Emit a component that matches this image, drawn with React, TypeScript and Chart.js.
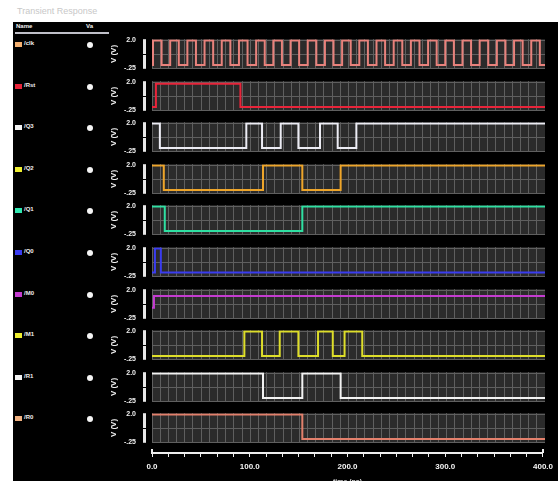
import React, { useEffect, useRef } from "react";
import { Chart, registerables } from "chart.js";

Chart.register(...registerables);

// ---------- data ----------
const TIME_MIN = 0;
const TIME_MAX = 400;

const signalNames = ["/clk", "/Rst", "/Q3", "/Q2", "/Q1", "/Q0", "/M0", "/M1", "/R1", "/R0"];
const traceColors = ["#e8827c", "#e8243a", "#ececf4", "#eea52a", "#2fe0a2", "#3a3cf0", "#c43cd0", "#dede2a", "#f2f2f2", "#e2806c"];
const swatchColors = ["#f4b070", "#e8243a", "#f2f2f2", "#eeee30", "#30e8b0", "#3a3cf0", "#c43cd0", "#eeee30", "#f2f2f2", "#f0b080"];
const startHigh = [false, false, true, true, true, false, false, false, true, true];
const lowLevels = [0, 0, 0, 0, 0, 0.05, 0.6, 0, 0, 0];
const highLevels = [2, 1.9, 2, 2, 2, 2, 1.55, 2, 2, 2];

// toggle times (ns) of every signal
const clkEdges = [1, 9.75, 18.5, 27.25, 36, 44.75, 53.5, 62.25, 71, 79.75, 88.5, 97.25, 106, 114.75, 123.5, 132.25, 141, 149.75, 158.5, 167.25, 176, 184.75, 193.5, 202.25, 211, 219.75, 228.5, 237.25, 246, 254.75, 263.5, 272.25, 281, 289.75, 298.5, 307.25, 316, 324.75, 333.5, 342.25, 351, 359.75, 368.5, 377.25, 386, 394.75];
const rstEdges = [4, 90];
const q3Edges = [8, 96, 112, 131, 149, 171, 189, 208];
const q2Edges = [12, 113, 153, 192];
const q1Edges = [13, 153];
const q0Edges = [3, 9];
const m0Edges = [2];
const m1Edges = [94, 112, 130, 149, 169, 184, 196, 214];
const r1Edges = [113, 153, 192];
const r0Edges = [153];
const signalEdges = [clkEdges, rstEdges, q3Edges, q2Edges, q1Edges, q0Edges, m0Edges, m1Edges, r1Edges, r0Edges];

const yMin = -0.3;
const yMax = 2.1;
const yGridValues = [-0.25, 0.125, 0.5, 0.875, 1.25, 1.625, 2.0];
const yLabelValues = [-0.25, 2.0];
const yLabelTexts = ["-.25", "2.0"];
const axisLabelValues = [0, 100, 200, 300, 400];
const axisTickDivisions = 6; // per 100 ns
const gridDivisions = 12; // per 100 ns

// ---------- helpers ----------
const FONT = "'Liberation Sans', Arial, sans-serif";
const PANEL_LEFT = 105;
const AXIS_W = 47;
const PLOT_W = 393;
const PANEL_TOP0 = 38;
const PANEL_STEP = 41.6;
const PANEL_H = 32;

function buildPoints(i: number) {
  const lo = lowLevels[i];
  const hi = highLevels[i];
  let high = startHigh[i];
  const pts: { x: number; y: number }[] = [{ x: TIME_MIN, y: high ? hi : lo }];
  for (const e of signalEdges[i]) {
    high = !high;
    pts.push({ x: e, y: high ? hi : lo });
  }
  pts.push({ x: TIME_MAX, y: high ? hi : lo });
  return pts;
}

const gridTimes: number[] = [];
for (let k = 0; k <= (gridDivisions * (TIME_MAX - TIME_MIN)) / 100; k++) gridTimes.push(TIME_MIN + (k * 100) / gridDivisions);
const axisTicks: number[] = [];
for (let k = 0; k <= (axisTickDivisions * (TIME_MAX - TIME_MIN)) / 100; k++) axisTicks.push(TIME_MIN + (k * 100) / axisTickDivisions);

const panelBgPlugin = {
  id: "panelBg",
  beforeDraw(chart: any) {
    const { ctx, chartArea } = chart;
    if (!chartArea) return;
    ctx.save();
    ctx.fillStyle = "#2b2b2b";
    ctx.fillRect(chartArea.left, chartArea.top, chartArea.right - chartArea.left, chartArea.bottom - chartArea.top);
    ctx.restore();
  },
};

const rulerPlugin = {
  id: "ruler",
  afterDraw(chart: any) {
    const { ctx, chartArea } = chart;
    const ys = chart.scales.y;
    const x0 = chartArea.left - 9;
    ctx.save();
    ctx.fillStyle = "#e8e8e8";
    ctx.fillRect(x0, chartArea.top, 3, chartArea.bottom - chartArea.top);
    ctx.fillStyle = "#000";
    ys.ticks.forEach((t: any, idx: number) => {
      if (idx === 0 || idx === ys.ticks.length - 1) return;
      const py = Math.round(ys.getPixelForValue(t.value));
      ctx.fillRect(x0, py, 3, 1);
    });
    ctx.restore();
  },
};

const axisCornerPlugin = {
  id: "axisCorner",
  afterDraw(chart: any) {
    const { ctx, chartArea } = chart;
    ctx.save();
    ctx.fillStyle = "#eeeeee";
    ctx.fillRect(chartArea.left - 1, chartArea.bottom - 4, 2, 4);
    ctx.fillRect(chartArea.right - 1, chartArea.bottom - 4, 2, 4);
    ctx.restore();
  },
};

function Panel({ index }: { index: number }) {
  const ref = useRef<HTMLCanvasElement>(null);
  useEffect(() => {
    const chart = new Chart(ref.current as HTMLCanvasElement, {
      type: "line",
      data: {
        datasets: [
          {
            data: buildPoints(index),
            borderColor: traceColors[index],
            borderWidth: 2,
            pointRadius: 0,
            stepped: true,
            fill: false,
          } as any,
        ],
      },
      options: {
        animation: false,
        responsive: false,
        events: [],
        layout: { padding: { top: 4, bottom: 4, left: 0, right: 0 } },
        plugins: { legend: { display: false }, tooltip: { enabled: false } },
        scales: {
          x: {
            type: "linear",
            min: TIME_MIN,
            max: TIME_MAX,
            afterBuildTicks: (s: any) => {
              s.ticks = gridTimes.map((v) => ({ value: v }));
            },
            ticks: { display: false },
            grid: { color: "#5f5f5f", lineWidth: 1, drawTicks: false },
            border: { display: false },
          },
          y: {
            type: "linear",
            min: yMin,
            max: yMax,
            afterBuildTicks: (s: any) => {
              s.ticks = yGridValues.map((v) => ({ value: v }));
            },
            afterFit: (s: any) => {
              s.width = AXIS_W;
            },
            ticks: {
              color: "#f0f0f0",
              padding: 1,
              font: { size: 7, weight: "bold", family: FONT },
              callback: (v: any) => {
                const k = yLabelValues.findIndex((lv) => Math.abs(lv - Number(v)) < 1e-6);
                return k >= 0 ? yLabelTexts[k] : "";
              },
            },
            grid: { color: "#5f5f5f", lineWidth: 1, drawTicks: true, tickLength: 15, tickColor: "rgba(0,0,0,0)" },
            border: { display: false },
            title: {
              display: true,
              text: "V (V)",
              color: "#f0f0f0",
              font: { size: 8, weight: "bold", family: FONT },
              padding: { top: 4, bottom: 0 },
            },
          },
        },
      } as any,
      plugins: [panelBgPlugin, rulerPlugin],
    });
    return () => chart.destroy();
  }, [index]);
  const top = Math.round(PANEL_TOP0 + index * PANEL_STEP) - 4;
  return (
    <canvas
      ref={ref}
      width={AXIS_W + PLOT_W}
      height={PANEL_H + 8}
      style={{ position: "absolute", left: PANEL_LEFT, top, display: "block" }}
    />
  );
}

function TimeAxis() {
  const ref = useRef<HTMLCanvasElement>(null);
  useEffect(() => {
    const chart = new Chart(ref.current as HTMLCanvasElement, {
      type: "line",
      data: { datasets: [] },
      options: {
        animation: false,
        responsive: false,
        events: [],
        layout: { padding: { left: AXIS_W, right: 13, top: 0, bottom: 0 } },
        plugins: { legend: { display: false }, tooltip: { enabled: false } },
        scales: {
          x: {
            type: "linear",
            min: TIME_MIN,
            max: TIME_MAX,
            position: "bottom",
            afterBuildTicks: (s: any) => {
              s.ticks = axisTicks.map((v) => ({ value: v }));
            },
            border: { display: true, color: "#eeeeee", width: 2 },
            grid: { drawOnChartArea: false, drawTicks: true, tickLength: 4, tickColor: "#eeeeee", tickWidth: 1 },
            ticks: {
              autoSkip: false,
              maxRotation: 0,
              color: "#f4f4f4",
              padding: 5,
              font: { size: 8, weight: "bold", family: FONT },
              callback: (v: any) => {
                const n = Number(v);
                return axisLabelValues.some((a) => Math.abs(a - n) < 1e-6) ? n.toFixed(1) : "";
              },
            },
            title: {
              display: true,
              text: "time (ns)",
              color: "#d8d8d8",
              font: { size: 7, weight: "bold", family: FONT },
              padding: { top: 1, bottom: 0 },
            },
          },
          y: { display: false, min: 0, max: 1 },
        },
      } as any,
      plugins: [axisCornerPlugin],
    });
    return () => chart.destroy();
  }, []);
  return (
    <canvas
      ref={ref}
      width={AXIS_W + PLOT_W + 13}
      height={72}
      style={{ position: "absolute", left: PANEL_LEFT, top: 414, display: "block" }}
    />
  );
}

export default function App() {
  return (
    <div
      style={{
        position: "fixed",
        left: 0,
        top: 0,
        width: 558,
        height: 481,
        background: "#ffffff",
        overflow: "hidden",
        fontFamily: FONT,
      }}
    >
      <div style={{ position: "absolute", left: 17, top: 6, fontSize: 9, color: "#c8c8c8", whiteSpace: "nowrap" }}>
        Transient Response
      </div>
      <div style={{ position: "absolute", left: 13, top: 22, width: 545, height: 459, background: "#000000" }} />
      <div style={{ position: "absolute", left: 16, top: 23, fontSize: 6, fontWeight: "bold", color: "#f0f0f0" }}>Name</div>
      <div style={{ position: "absolute", left: 86, top: 23, fontSize: 6, fontWeight: "bold", color: "#f0f0f0" }}>Va</div>
      <div style={{ position: "absolute", left: 15, top: 32, width: 94, height: 2, background: "#bfbfc8" }} />
      {signalNames.map((name, i) => {
        const cy = Math.round(PANEL_TOP0 + i * PANEL_STEP) + 7;
        return (
          <React.Fragment key={name}>
            <div style={{ position: "absolute", left: 15, top: cy - 3, width: 7, height: 5, background: swatchColors[i] }} />
            <div
              style={{
                position: "absolute",
                left: 24,
                top: cy - 5,
                fontSize: 6,
                fontWeight: "bold",
                color: "#f0f0f0",
                whiteSpace: "nowrap",
              }}
            >
              {name}
            </div>
            <div
              style={{
                position: "absolute",
                left: 87,
                top: cy - 3,
                width: 6,
                height: 6,
                borderRadius: 3,
                background: "#f4f4f4",
              }}
            />
          </React.Fragment>
        );
      })}
      {signalNames.map((name, i) => (
        <Panel key={"p" + name} index={i} />
      ))}
      <TimeAxis />
    </div>
  );
}
